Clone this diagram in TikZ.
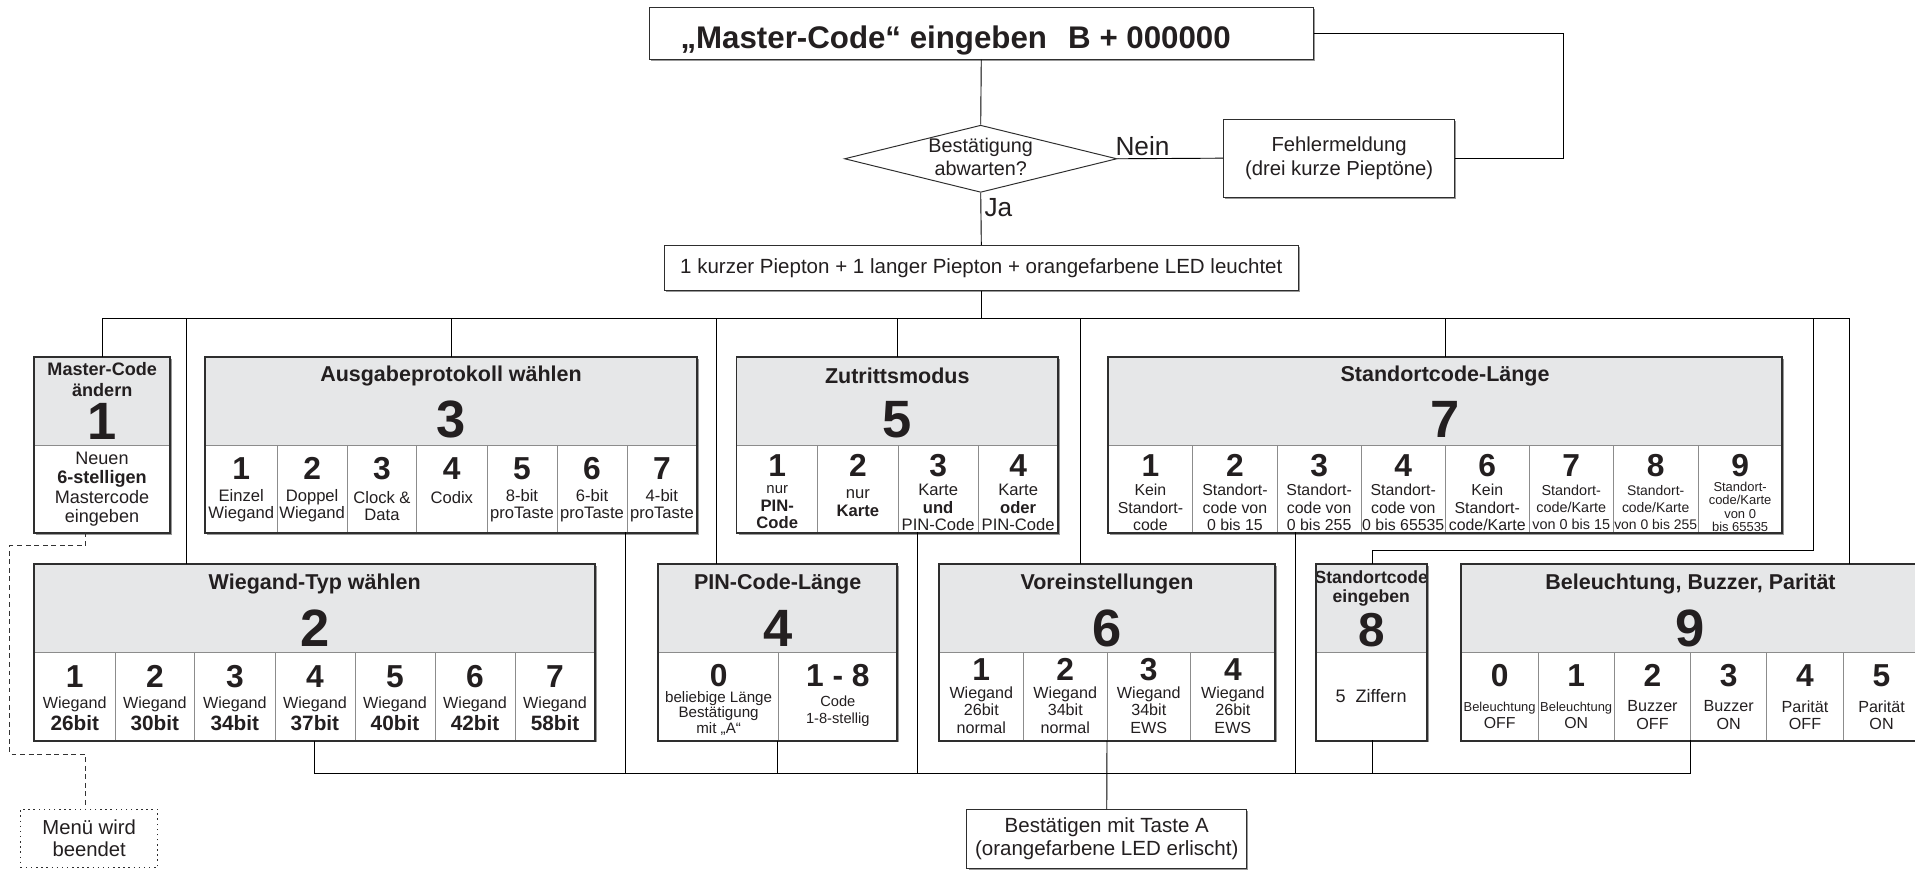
\documentclass[tikz,border=0pt]{standalone}
\usepackage{fontspec}
\setmainfont{Liberation Sans}
\usetikzlibrary{calc,shapes.geometric,shadows}
\definecolor{hdrgray}{HTML}{E6E7E8}
\definecolor{framecol}{HTML}{2E2E2E}
\definecolor{txt}{HTML}{231F20}
\definecolor{sepcol}{HTML}{8C8C8C}
\definecolor{shadecol}{HTML}{6E6E6E}
\newcommand\fs[2]{\fontsize{#1}{#2}\selectfont}
\tikzset{
  conn/.style={draw=black, line width=0.75pt},
  dashline/.style={draw=black!80, line width=0.75pt, dash pattern=on 4pt off 3pt},
  plainbox/.style={draw=framecol, line width=0.9pt, fill=white, inner sep=0pt,
    drop shadow={shadow xshift=1.3pt, shadow yshift=-1.3pt, fill=shadecol, opacity=0.7}},
  boxbase/.style={fill=white, inner sep=0pt, minimum height=144pt,
    drop shadow={shadow xshift=1.6pt, shadow yshift=-1.6pt, fill=shadecol, opacity=0.7}},
  hdr/.style={fill=hdrgray, draw=sepcol, line width=0.5pt, inner sep=0pt, minimum height=72pt},
  cellbox/.style={fill=white, draw=sepcol, line width=0.5pt, inner sep=0pt, minimum height=72pt},
  frame/.style={draw=framecol, line width=1.5pt},
  ttl/.style={inner sep=0pt, align=center},
  bignum/.style={font=\bfseries\fs{43}{43}, inner sep=0pt},
  cnum/.style={font=\bfseries\fs{26}{26}, inner sep=0pt},
  ctext/.style={inner sep=0pt, align=center},
}
% name, x1, x2, ytop, title font, title offset, title
\newcommand\menubox[7]{%
  \pgfmathsetmacro\mbw{#3-#2}%
  \node[boxbase, minimum width=\mbw pt, anchor=north west] (#1) at (#2,#4) {};
  \node[hdr, minimum width=\mbw pt, anchor=north west] (#1h) at (#2,#4) {};
  \node[ttl, font=\bfseries#5] (#1t) at ($(#1.north)+(0,#6)$) {#7};
}
% name, x1, x2, ytop, digit, digit baseline offset, text offset, font, text
\newcommand\mcell[9]{%
  \pgfmathsetmacro\mcw{#3-#2}%
  \node[cellbox, minimum width=\mcw pt, anchor=north west] (#1) at (#2,#4) {};
  \node[cnum, anchor=base] (#1n) at ($(#1.north)+(0,#6)$) {#5};
  \node[ctext, font=#8] (#1x) at ($(#1.north)+(0,#7)$) {#9};
}
\newcommand\frameit[1]{\draw[frame] (#1.north west) rectangle (#1.south east);}
\begin{document}
\begin{tikzpicture}[x=1pt,y=-1pt, every node/.append style={text=txt}]
\useasboundingbox (0,0) rectangle (1568,712);

% ---------- top flow ----------
\node[plainbox, minimum width=544pt, minimum height=42pt, anchor=north west] (master) at (531,6) {};
\node[font=\bfseries\fs{25.6}{27}, anchor=base west, inner sep=0pt] (mastertxt) at (557,39.6) {„Master-Code“ eingeben\hspace{0.4em} B + 000000};
\node[diamond, draw=framecol, line width=0.8pt, fill=white, minimum width=223pt, minimum height=55pt, inner sep=0pt, aspect=4] (dia) at (803,130) {};
\node[font=\fs{16.2}{19.5}, align=center, inner sep=0pt] (diat) at (803,128.5) {Bestätigung\\abwarten?};
\node[font=\fs{21.5}{21.5}, inner sep=0pt] (nein) at (935.5,120) {Nein};
\node[font=\fs{21.5}{21.5}, inner sep=0pt] (ja) at (817.5,170) {Ja};
\node[plainbox, minimum width=189pt, minimum height=64pt, font=\fs{16.6}{19}, align=center] (fehler) at (1096.5,129.5) {Fehlermeldung\\(drei kurze Pieptöne)};
\node[plainbox, minimum width=519pt, minimum height=37pt, font=\fs{16.8}{18}] (kurz) at (803.5,219.5) {1 kurzer Piepton + 1 langer Piepton + orangefarbene LED leuchtet};

% ---------- row 1 ----------
% Box 1
\menubox{m1}{28}{139}{292}{\fs{14.8}{17}}{19}{Master-Code\\ändern}
\node[bignum, anchor=base] (m1n) at ($(m1.north)+(0,67.5)$) {1};
\node[cellbox, minimum width=111pt, anchor=north west] (m1c) at (28,364) {};
\node[ctext, font=\fs{14.8}{16}] (m1x) at (83.5,400.5) {Neuen\\\textbf{6-stelligen}\\Mastercode\\eingeben};
\frameit{m1}

% Box 3
\menubox{m3}{168}{570.2}{292}{\fs{17.6}{20}}{15.5}{Ausgabeprotokoll wählen}
\node[bignum, anchor=base] (m3n) at ($(m3.north)+(0,66.5)$) {3};
\mcell{c31}{168}{226.6}{364}{1}{28.5}{50}{\fs{13.6}{14}}{Einzel\\Wiegand}
\mcell{c32}{226.6}{284}{364}{2}{28.5}{50}{\fs{13.6}{14}}{Doppel\\Wiegand}
\mcell{c33}{284}{341}{364}{3}{28.5}{50}{\fs{13.6}{14}}{Clock \&\\Data}
\mcell{c34}{341}{398.4}{364}{4}{28.5}{50}{\fs{13.6}{14}}{Codix\\\phantom{W}}
\mcell{c35}{398.4}{455.8}{364}{5}{28.5}{50}{\fs{13.6}{14}}{8-bit\\proTaste}
\mcell{c36}{455.8}{513.2}{364}{6}{28.5}{50}{\fs{13.6}{14}}{6-bit\\proTaste}
\mcell{c37}{513.2}{570.2}{364}{7}{28.5}{50}{\fs{13.6}{14}}{4-bit\\proTaste}
\frameit{m3}

% Box 5
\menubox{m5}{603}{866}{292}{\fs{17.6}{20}}{15.5}{Zutrittsmodus}
\node[bignum, anchor=base] (m5n) at ($(m5.north)+(0,66.5)$) {5};
\mcell{c51}{603}{669.3}{364}{1}{26.5}{51.5}{\fs{13.6}{14.3}}{{\fs{12.2}{14}nur}\\\textbf{PIN-}\\\textbf{Code}}
\mcell{c52}{669.3}{735}{364}{2}{26.5}{48}{\fs{13.6}{15}}{nur\\\textbf{Karte}}
\mcell{c53}{735}{800.8}{364}{3}{26.5}{51.5}{\fs{13.6}{14.3}}{Karte\\\textbf{und}\\PIN-Code}
\mcell{c54}{800.8}{866}{364}{4}{26.5}{51.5}{\fs{13.6}{14.3}}{Karte\\\textbf{oder}\\PIN-Code}
\frameit{m5}

% Box 7
\menubox{m7}{907}{1459}{292}{\fs{17.6}{20}}{15.5}{Standortcode-Länge}
\node[bignum, anchor=base] (m7n) at ($(m7.north)+(0,66.5)$) {7};
\mcell{c71}{907}{976.4}{364}{1}{26.5}{51.5}{\fs{13}{14.3}}{Kein\\Standort-\\code}
\mcell{c72}{976.4}{1045.4}{364}{2}{26.5}{51.5}{\fs{13}{14.3}}{Standort-\\code von\\0 bis 15}
\mcell{c73}{1045.4}{1114.3}{364}{3}{26.5}{51.5}{\fs{13}{14.3}}{Standort-\\code von\\0 bis 255}
\mcell{c74}{1114.3}{1183.2}{364}{4}{26.5}{51.5}{\fs{13}{14.3}}{Standort-\\code von\\0 bis 65535}
\mcell{c76}{1183.2}{1251.8}{364}{6}{26.5}{51.5}{\fs{13}{14.3}}{Kein\\Standort-\\code/Karte}
\mcell{c77}{1251.8}{1320.7}{364}{7}{26.5}{51.5}{\fs{11.8}{14}}{Standort-\\code/Karte\\von 0 bis 15}
\mcell{c78}{1320.7}{1390.1}{364}{8}{26.5}{51.5}{\fs{11.4}{14}}{Standort-\\code/Karte\\von 0 bis 255}
\mcell{c79}{1390.1}{1459}{364}{9}{26.5}{51}{\fs{10.6}{10.8}}{Standort-\\code/Karte\\von 0\\bis 65535}
\frameit{m7}

% ---------- row 2 ----------
% Box 2
\menubox{m2}{28}{487}{462}{\fs{17.6}{20}}{16}{Wiegand-Typ wählen}
\node[bignum, anchor=base] (m2n) at ($(m2.north)+(0,67.5)$) {2};
\mcell{c21}{28}{93.9}{534}{1}{29}{50.5}{\fs{13.2}{14}}{Wiegand\\[2pt]{\bfseries\fs{17}{15}26bit}}
\mcell{c22}{93.9}{159.2}{534}{2}{29}{50.5}{\fs{13.2}{14}}{Wiegand\\[2pt]{\bfseries\fs{17}{15}30bit}}
\mcell{c23}{159.2}{224.9}{534}{3}{29}{50.5}{\fs{13.2}{14}}{Wiegand\\[2pt]{\bfseries\fs{17}{15}34bit}}
\mcell{c24}{224.9}{290.3}{534}{4}{29}{50.5}{\fs{13.2}{14}}{Wiegand\\[2pt]{\bfseries\fs{17}{15}37bit}}
\mcell{c25}{290.3}{356}{534}{5}{29}{50.5}{\fs{13.2}{14}}{Wiegand\\[2pt]{\bfseries\fs{17}{15}40bit}}
\mcell{c26}{356}{421.4}{534}{6}{29}{50.5}{\fs{13.2}{14}}{Wiegand\\[2pt]{\bfseries\fs{17}{15}42bit}}
\mcell{c27}{421.4}{487}{534}{7}{29}{50.5}{\fs{13.2}{14}}{Wiegand\\[2pt]{\bfseries\fs{17}{15}58bit}}
\frameit{m2}

% Box 4
\menubox{m4}{539}{734.2}{462}{\fs{17.6}{20}}{16}{PIN-Code-Länge}
\node[bignum, anchor=base] (m4n) at ($(m4.north)+(0,67.5)$) {4};
\mcell{c40}{539}{637.3}{534}{0}{28}{50}{\fs{12.4}{12.8}}{beliebige Länge\\Bestätigung\\mit „A“}
\mcell{c48}{637.3}{734.2}{534}{1 - 8}{28}{48.5}{\fs{12}{13.5}}{Code\\1-8-stellig}
\frameit{m4}

% Box 6
\menubox{m6}{768.6}{1043.8}{462}{\fs{17.6}{20}}{16}{Voreinstellungen}
\node[bignum, anchor=base] (m6n) at ($(m6.north)+(0,67.5)$) {6};
\mcell{c61}{768.6}{837.9}{534}{1}{23.5}{47.5}{\fs{13.2}{14}}{Wiegand\\26bit\\normal}
\mcell{c62}{837.9}{906.1}{534}{2}{23.5}{47.5}{\fs{13.2}{14}}{Wiegand\\34bit\\normal}
\mcell{c63}{906.1}{974.6}{534}{3}{23.5}{47.5}{\fs{13.2}{14}}{Wiegand\\34bit\\EWS}
\mcell{c64}{974.6}{1043.8}{534}{4}{23.5}{47.5}{\fs{13.2}{14}}{Wiegand\\26bit\\EWS}
\frameit{m6}

% Box 8
\menubox{m8}{1077.2}{1168}{462}{\fs{14.4}{16}}{20}{Standortcode\\eingeben}
\node[font=\bfseries\fs{39}{39}, inner sep=0pt, anchor=base] (m8n) at ($(m8.north)+(0,67)$) {8};
\node[cellbox, minimum width=90.8pt, anchor=north west] (m8c) at (1077.2,534) {};
\node[ctext, font=\fs{14.8}{15}] (m8x) at (1122.6,570) {5~~Ziffern};
\frameit{m8}

% Box 9
\menubox{m9}{1196.3}{1571.7}{462}{\fs{17.6}{20}}{16}{Beleuchtung, Buzzer, Parität}
\node[bignum, anchor=base] (m9n) at (1384,529.5) {9};
\mcell{c90}{1196.3}{1259}{534}{0}{28.5}{51.5}{\fs{10.6}{14}}{Beleuchtung\\\fs{13}{14}OFF}
\mcell{c91}{1259}{1321.6}{534}{1}{28.5}{51.5}{\fs{10.6}{14}}{Beleuchtung\\\fs{13}{14}ON}
\mcell{c92}{1321.6}{1384}{534}{2}{28.5}{51.5}{\fs{13.2}{14}}{Buzzer\\OFF}
\mcell{c93}{1384}{1446.3}{534}{3}{28.5}{51.5}{\fs{13.2}{14}}{Buzzer\\ON}
\mcell{c94}{1446.3}{1509}{534}{4}{28.5}{51.5}{\fs{13.2}{14}}{Parität\\OFF}
\mcell{c95}{1509}{1571.7}{534}{5}{28.5}{51.5}{\fs{13.2}{14}}{Parität\\ON}
\frameit{m9}

% ---------- bottom boxes ----------
\node[plainbox, minimum width=229pt, minimum height=48pt, font=\fs{16.8}{19}, align=center] (fin) at (906.2,687) {Bestätigen mit Taste A\\(orangefarbene LED erlischt)};
\node[draw=framecol, line width=0.9pt, dash pattern=on 1.2pt off 3pt, minimum width=112pt, minimum height=48pt, inner sep=0pt, font=\fs{16.6}{18}, align=center] (menu) at (73,686.5) {Menü wird\\beendet};

% ---------- connectors ----------
\coordinate (ret) at (1280,129.5);
\draw[conn] (master.south) -- (dia.north);
\draw[conn] (dia.east) -- (fehler.west);
\draw[conn] (fehler.east) -- (ret) |- (master.east);
\draw[conn] (dia.south) -- (kurz.north);

\coordinate (bus) at (0,261);
\coordinate (t2) at (153,462);
\coordinate (t4) at (587,462);
\coordinate (t6) at (885,462);
\coordinate (t8) at (1124,462);
\coordinate (t9) at (1514,462);
\coordinate (k8) at (1485,450.5);
\draw[conn] (m1.north) -- (m1.north |- bus) -- (t9 |- bus) -- (t9);
\draw[conn] (kurz.south) -- (kurz.south |- bus);
\draw[conn] (t2 |- bus) -- (t2);
\draw[conn] (m3.north) -- (m3.north |- bus);
\draw[conn] (t4 |- bus) -- (t4);
\draw[conn] (m5.north) -- (m5.north |- bus);
\draw[conn] (t6 |- bus) -- (t6);
\draw[conn] (m7.north) -- (m7.north |- bus);
\draw[conn] (k8 |- bus) -- (k8) -- (k8 -| t8) -- (t8);

\coordinate (lbus) at (0,633);
\coordinate (q3) at (512,436);
\coordinate (q5) at (751,436);
\coordinate (q7) at (1061,436);
\coordinate (q8) at (1124,606);
\coordinate (q9) at (1384,606);
\draw[conn] (m2.south) -- (m2.south |- lbus) -- (q9 |- lbus) -- (q9);
\draw[conn] (q3) -- (q3 |- lbus);
\draw[conn] (m4.south) -- (m4.south |- lbus);
\draw[conn] (q5) -- (q5 |- lbus);
\draw[conn] (m6.south) -- (fin.north);
\draw[conn] (q7) -- (q7 |- lbus);
\draw[conn] (q8) -- (q8 |- lbus);

\coordinate (d0) at (70,436);
\coordinate (d1) at (8,447);
\coordinate (d2) at (8,617.5);
\draw[dashline] (d0) -- (d0 |- d1) -- (d1) -- (d2) -- (d2 -| d0) -- (menu.north -| d0);
\end{tikzpicture}
\end{document}
